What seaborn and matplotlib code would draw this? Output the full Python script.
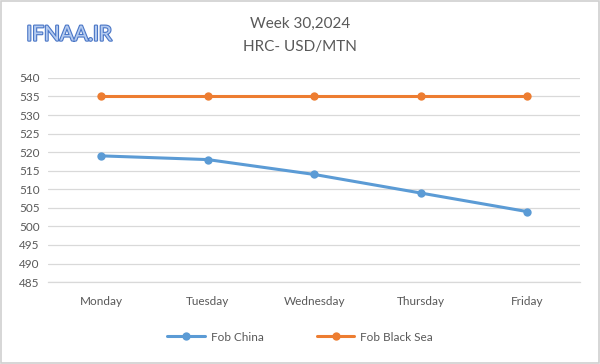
import matplotlib
matplotlib.use("Agg")
import matplotlib.pyplot as plt
import matplotlib.patheffects as pe
from matplotlib.patches import Rectangle
import seaborn as sns
import pandas as pd

days = ["Monday", "Tuesday", "Wednesday", "Thursday", "Friday"]
fob_china = [519, 518, 514, 509, 504]
fob_black_sea = [535, 535, 535, 535, 535]
series_names = ["Fob China", "Fob Black Sea"]
yticks = list(range(485, 545, 5))

df = pd.DataFrame({
    "day": days * 2,
    "x": list(range(len(days))) * 2,
    "price": fob_china + fob_black_sea,
    "series": [series_names[0]] * len(days) + [series_names[1]] * len(days),
})

sns.set_theme(style="white")
plt.rcParams["font.family"] = ["Lato", "DejaVu Sans"]

fig = plt.figure(figsize=(6.0, 3.64), dpi=100)
ax = fig.add_axes([0.08, 0.225, 0.887, 0.561])

palette = {"Fob China": "#5B9BD5", "Fob Black Sea": "#ED7D31"}
sns.lineplot(data=df, x="x", y="price", hue="series", palette=palette,
             marker="o", markersize=6, markeredgewidth=0, linewidth=2.2,
             ax=ax, legend=True)

ax.set_xlim(-0.5, len(days) - 0.5)
ax.set_ylim(485, 540)
ax.set_yticks(yticks)
ax.set_yticklabels([str(v) for v in yticks], color="#595959", fontsize=8.5)
ax.set_xticks(range(len(days)))
ax.set_xticklabels(days, color="#595959", fontsize=8.5)
ax.tick_params(axis="both", length=0, pad=6)
ax.tick_params(axis="x", pad=10)
ax.set_xlabel("")
ax.set_ylabel("")
ax.grid(axis="y", color="#D9D9D9", linewidth=0.9)
ax.set_axisbelow(True)
for s in ["top", "right", "left"]:
    ax.spines[s].set_visible(False)
ax.spines["bottom"].set_color("#D9D9D9")
ax.spines["bottom"].set_linewidth(0.9)

handles, labels = ax.get_legend_handles_labels()
ax.legend_.remove()
fig.legend(handles, labels, loc="center", bbox_to_anchor=(0.5, 0.074), ncol=2,
           frameon=False, fontsize=8.5, labelcolor="#595959",
           handlelength=3.2, columnspacing=4.5, handletextpad=0.5)

fig.text(0.5, 0.935, "Week 30,2024", ha="center", va="center",
         fontsize=11, color="#595959")
fig.text(0.5, 0.87, "HRC- USD/MTN", ha="center", va="center",
         fontsize=11, color="#595959")

logo = fig.text(0.115, 0.905, "IFNAA.IR", ha="center", va="center",
                fontsize=15, color="#B4CBF0", fontweight="normal")
logo.set_path_effects([pe.Stroke(linewidth=1.6, foreground="#4A76C6"), pe.Normal()])

fig.patches.append(Rectangle((0.002, 0.003), 0.996, 0.994, transform=fig.transFigure,
                             fill=False, edgecolor="#D0D0D0", linewidth=1.2))

fig.savefig("out.png", dpi=100)
